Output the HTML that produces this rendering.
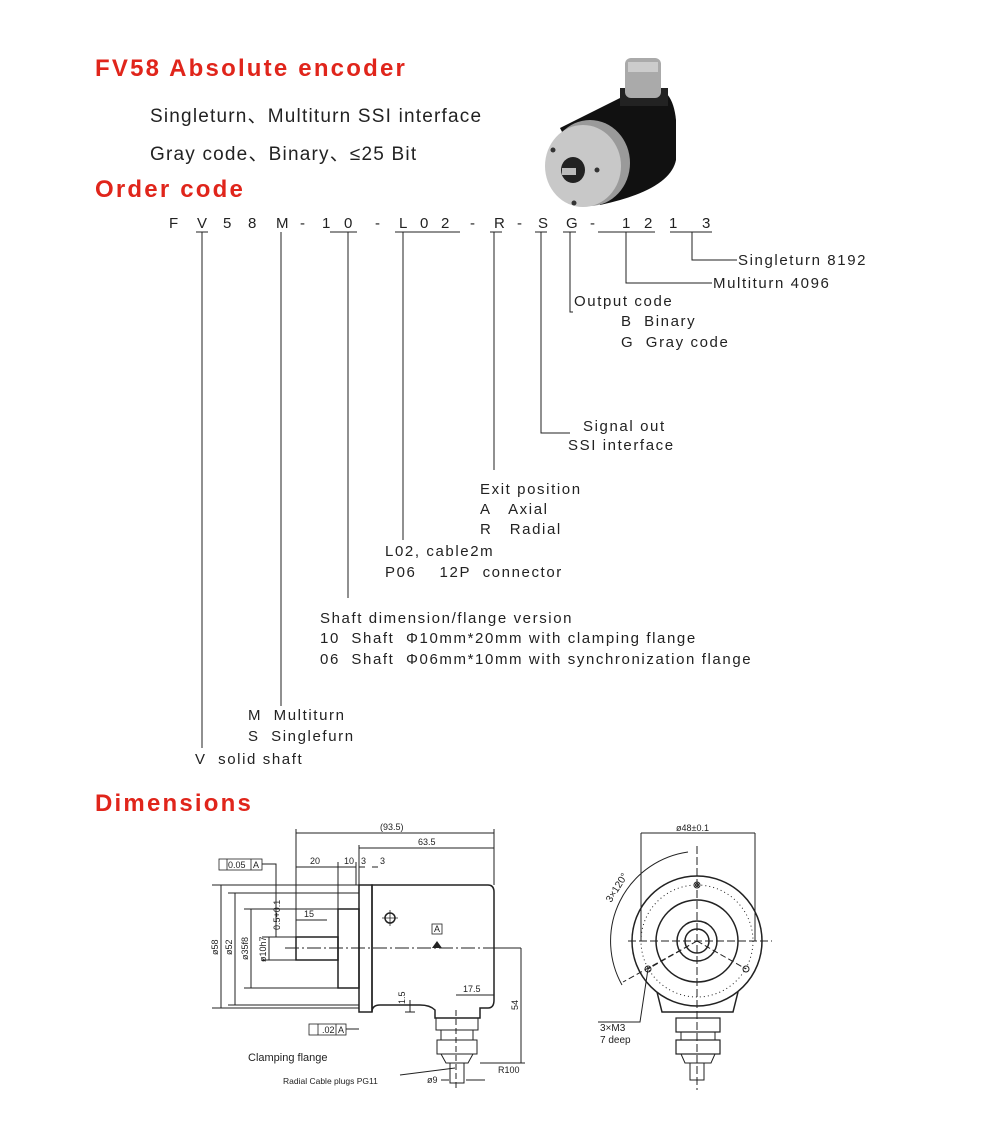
<!DOCTYPE html>
<html><head><meta charset="utf-8"><style>
body{margin:0;background:#fff;}
#p{position:relative;width:984px;height:1129px;overflow:hidden;font-family:"Liberation Sans","Noto Sans CJK SC",sans-serif;color:#222;}
.t{position:absolute;white-space:nowrap;font-size:15px;line-height:1;letter-spacing:1.6px}
.h{position:absolute;color:#e0251b;font-weight:bold;font-size:24px;letter-spacing:2.2px;line-height:1}
.s{position:absolute;font-size:19px;line-height:1;white-space:nowrap;letter-spacing:1.2px}
svg{position:absolute;left:0;top:0}
</style></head><body><div id="p">
<div class="h" style="left:95px;top:57px">FV58 Absolute encoder</div>
<div class="s" style="left:150px;top:107px">Singleturn、Multiturn SSI interface</div>
<div class="s" style="left:150px;top:145px">Gray code、Binary、≤25 Bit</div>
<div class="h" style="left:95px;top:178px">Order code</div>
<div class="h" style="left:95px;top:792px">Dimensions</div>

<svg width="984" height="1129" viewBox="0 0 984 1129">
<g>
<path d="M560 128 L640 88 Q672 80 676 120 L676 160 Q670 190 600 205 Z" fill="#111"/>
<rect x="620" y="88" width="48" height="18" fill="#222"/>
<rect x="625" y="58" width="36" height="40" rx="6" fill="#aaa"/>
<rect x="628" y="62" width="30" height="10" fill="#ccc"/>
<ellipse cx="590" cy="163" rx="40" ry="43" fill="#9a9a9a"/>
<ellipse cx="583" cy="166" rx="38" ry="41" fill="#c8c8c8"/>
<ellipse cx="573" cy="170" rx="12" ry="13" fill="#222"/>
<rect x="562" y="168" width="14" height="7" fill="#bbb"/>
<circle cx="553" cy="150" r="2.5" fill="#333"/><circle cx="597" cy="170" r="2.5" fill="#333"/><circle cx="574" cy="203" r="2.5" fill="#333"/>
</g>
<text x="171" y="228" font-family="Liberation Sans" font-size="15" fill="#222">
<tspan x="169">F</tspan><tspan x="197">V</tspan><tspan x="223">5</tspan><tspan x="248">8</tspan><tspan x="276">M</tspan><tspan x="300">-</tspan><tspan x="322">1</tspan><tspan x="344">0</tspan><tspan x="375">-</tspan><tspan x="399">L</tspan><tspan x="420">0</tspan><tspan x="441">2</tspan><tspan x="470">-</tspan><tspan x="494">R</tspan><tspan x="517">-</tspan><tspan x="538">S</tspan><tspan x="566">G</tspan><tspan x="590">-</tspan><tspan x="622">1</tspan><tspan x="644">2</tspan><tspan x="669">1</tspan><tspan x="702">3</tspan>
</text>
<g stroke="#222" stroke-width="1" fill="none">
<path d="M196 232H208M330 232H357M395 232H460M490 232H502M535 232H547M563 232H576M598 232H655M670 232H712"/>
<path d="M202 232V748M281 232V706M348 232V598M403 232V540M494 232V470M541 232V433H570M570 232V312H573M626 232V283H712M692 232V260H737"/>
</g>
<g stroke="#222" stroke-width="1" fill="none">
<path d="M372 885H488Q494 885 494 892V1000Q494 1008 488 1008H480V1018H435V1010Q430 1005 420 1005H380Q372 1005 372 1012Z" stroke-width="1.5"/>
<rect x="359" y="885" width="13" height="127" stroke-width="1.5"/>
<rect x="338" y="909" width="21" height="79" stroke-width="1.5"/>
<rect x="296" y="937" width="42" height="23" stroke-width="1.5"/>
<rect x="436" y="1018" width="42" height="12"/><rect x="441" y="1030" width="32" height="10"/><rect x="437" y="1040" width="40" height="14"/><path d="M441 1054H473L468 1063H446Z"/>
<rect x="450" y="1063" width="14" height="20"/>
<path d="M285 948H520" stroke-dasharray="14 3 2 3"/>
<path d="M456 1010V1090" stroke-dasharray="6 3"/>
<path d="M296 829V937M494 829V885M359 845V885M296 833H494M359 848H494M296 867H336M336 867H356M359 867H365M372 867H378M338 862V909M356 862V885"/>
<path d="M212 885H359M228 893H359M244 909H338M262 937H296M262 960H296M221 885V1008M235 893V1005M251 909V988M269 937V960M212 1008H359M228 1005H359M244 988H338M262 960H290"/>
<path d="M296 920H327M494 948H521M521 948V1063M480 1063H525M456 995H494M410 1000V1012M405 1012H415"/>
<path d="M262 864H276V937M346 1029H359"/>
<path d="M400 1075L455 1068M468 1080H485M441 1080H449M466 1080H478"/>
</g>
<g font-family="Liberation Sans" font-size="9" fill="#222">
<text x="380" y="830">(93.5)</text><text x="418" y="845">63.5</text>
<text x="310" y="864">20</text><text x="344" y="864">10</text><text x="361" y="864">3</text><text x="380" y="864">3</text>
<text x="304" y="917">15</text><text x="463" y="992">17.5</text>
<text x="498" y="1073">R100</text><text x="427" y="1083">ø9</text>
<text x="283" y="1084" font-size="8.5">Radial  Cable plugs  PG11</text>
<text transform="translate(218,955) rotate(-90)">ø58</text>
<text transform="translate(232,955) rotate(-90)">ø52</text>
<text transform="translate(248,960) rotate(-90)">ø35f8</text>
<text transform="translate(266,962) rotate(-90)">ø10h7</text>
<text transform="translate(280,930) rotate(-90)">0.5+0.1</text>
<text transform="translate(405,1004) rotate(-90)">1.5</text>
<text transform="translate(518,1010) rotate(-90)">54</text>
<text x="228" y="868">0.05</text><text x="253" y="868">A</text>
<text x="322" y="1033">.02</text><text x="338" y="1033">A</text>
<text x="434" y="932">A</text>
</g>
<g stroke="#222" fill="none" stroke-width="0.8">
<rect x="219" y="859" width="43" height="11"/><path d="M227 859V870M251 859V870"/>
<rect x="309" y="1024" width="37" height="11"/><path d="M318 1024V1035M336 1024V1035"/>
<rect x="432" y="924" width="10" height="10"/>
<circle cx="390" cy="918" r="5" stroke-width="1.5"/><path d="M382 918H398M390 910V926"/>
</g>
<path d="M432 948L437 941L442 948Z" fill="#222"/>
<text x="248" y="1061" font-family="Liberation Sans" font-size="11" fill="#222">Clamping flange</text>
<g stroke="#222" fill="none">
<path d="M657 992L662 1012H733L738 992" stroke-width="1.5"/>
<circle cx="697" cy="941" r="65" stroke-width="1.5" fill="#fff"/>
<circle cx="697" cy="941" r="56" stroke-dasharray="1 3"/>
<circle cx="697" cy="941" r="41" stroke-width="1.5"/>
<circle cx="697" cy="941" r="20" stroke-width="1.5"/>
<circle cx="697" cy="941" r="12" stroke-width="1.5"/>
<path d="M628 941H772M697 846V1090" stroke-dasharray="8 3"/>
<path d="M697 941L648 969M697 941L746 969M697 941L623 982" stroke-dasharray="6 3"/>
<circle cx="697" cy="885" r="3"/><circle cx="697" cy="885" r="1.5"/>
<circle cx="648" cy="969" r="3"/><circle cx="746" cy="969" r="3"/>
<path d="M641 833V941M755 833V941M641 833H755"/>
<path d="M688 852A90 90 0 0 0 622 985"/>
<rect x="676" y="1018" width="44" height="14" stroke-width="1.2"/><rect x="681" y="1032" width="34" height="8"/><rect x="676" y="1040" width="44" height="14" stroke-width="1.2"/><path d="M681 1054H715L711 1063H685Z"/><rect x="690" y="1063" width="14" height="17"/>
<path d="M648 969L640 1022H598"/>
</g>
<g font-family="Liberation Sans" fill="#222">
<text x="676" y="831" font-size="9">ø48±0.1</text>
<text transform="translate(611,903) rotate(-58)" font-size="10">3×120°</text>
<text x="600" y="1031" font-size="10">3×M3</text>
<text x="600" y="1043" font-size="10">7 deep</text>
</g>
</svg>

<div class="t" style="left:738px;top:253px">Singleturn 8192</div>
<div class="t" style="left:713px;top:276px">Multiturn 4096</div>
<div class="t" style="left:574px;top:294px">Output code</div>
<div class="t" style="left:621px;top:314px">B&nbsp; Binary</div>
<div class="t" style="left:621px;top:335px">G&nbsp; Gray code</div>
<div class="t" style="left:583px;top:419px">Signal out</div>
<div class="t" style="left:568px;top:438px">SSI interface</div>
<div class="t" style="left:480px;top:482px">Exit position</div>
<div class="t" style="left:480px;top:502px">A&nbsp;&nbsp; Axial</div>
<div class="t" style="left:480px;top:522px">R&nbsp;&nbsp; Radial</div>
<div class="t" style="left:385px;top:544px">L02, cable2m</div>
<div class="t" style="left:385px;top:565px">P06&nbsp;&nbsp;&nbsp; 12P&nbsp; connector</div>
<div class="t" style="left:320px;top:611px">Shaft dimension/flange version</div>
<div class="t" style="left:320px;top:631px">10&nbsp; Shaft &nbsp;Φ10mm*20mm with clamping flange</div>
<div class="t" style="left:320px;top:652px">06&nbsp; Shaft &nbsp;Φ06mm*10mm with synchronization flange</div>
<div class="t" style="left:248px;top:708px">M&nbsp; Multiturn</div>
<div class="t" style="left:248px;top:729px">S&nbsp; Singlefurn</div>
<div class="t" style="left:195px;top:752px">V&nbsp; solid shaft</div>
</div></body></html>
